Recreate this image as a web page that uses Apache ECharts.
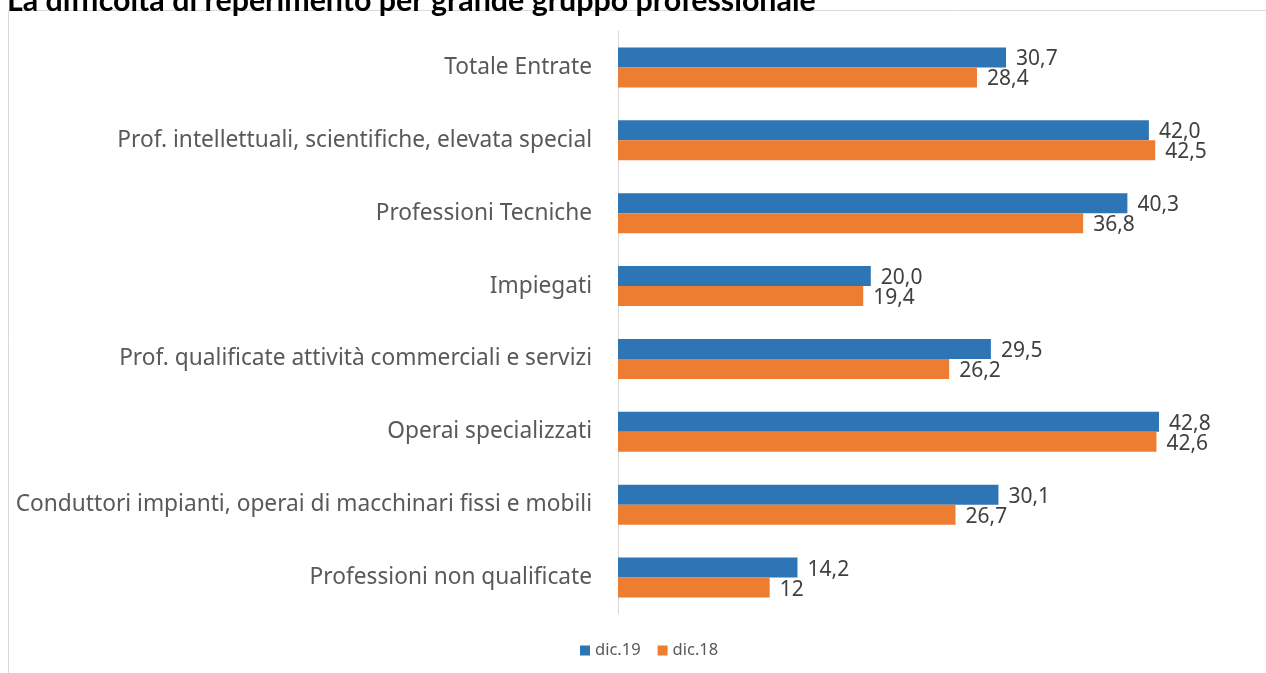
<!DOCTYPE html>
<html>
<head>
<meta charset="utf-8">
<script src="https://cdn.jsdelivr.net/npm/echarts@6/dist/echarts.min.js"></script>
<style>
  html, body { margin: 0; padding: 0; background: #fff; }
  #chart { width: 1266px; height: 673px; }
</style>
</head>
<body>
<div id="chart"></div>
<script>
const categories = [
  "Totale Entrate",
  "Prof. intellettuali, scientifiche, elevata special",
  "Professioni Tecniche",
  "Impiegati",
  "Prof. qualificate attività commerciali e servizi",
  "Operai specializzati",
  "Conduttori impianti, operai di macchinari fissi e mobili",
  "Professioni non qualificate"
];
const dic19 = [30.7, 42.0, 40.3, 20.0, 29.5, 42.8, 30.1, 14.2];
const dic18 = [28.4, 42.5, 36.8, 19.4, 26.2, 42.6, 26.7, 12];
const labels19 = ["30,7", "42,0", "40,3", "20,0", "29,5", "42,8", "30,1", "14,2"];
const labels18 = ["28,4", "42,5", "36,8", "19,4", "26,2", "42,6", "26,7", "12"];

const chart = echarts.init(document.getElementById("chart"));

const valueLabel = (texts) => ({
  show: true,
  position: "right",
  distance: 10,
  offset: [0, 2],
  color: "#404040",
  fontFamily: "Noto Sans",
  fontSize: 21,
  formatter: (p) => texts[p.dataIndex]
});

const options = {
  animation: false,
  title: {
    text: "La difficoltà di reperimento per grande gruppo professionale",
    left: 2,
    top: -19,
    textStyle: {
      fontFamily: "Lato",
      fontWeight: "bold",
      fontSize: 30.4,
      color: "#000"
    }
  },
  graphic: [
    {
      type: "rect",
      shape: { x: 8.5, y: 10.5, width: 1300, height: 700 },
      style: { fill: "none", stroke: "#d9d9d9", lineWidth: 1 },
      silent: true
    }
  ],
  legend: {
    bottom: 9,
    left: 575,
    itemWidth: 10,
    itemHeight: 10,
    itemGap: 17,
    icon: "rect",
    textStyle: { fontFamily: "Noto Sans", fontSize: 16.5, color: "#595959" },
    data: ["dic.19", "dic.18"]
  },
  grid: {
    left: 618,
    right: 16,
    top: 31,
    bottom: 59
  },
  xAxis: {
    type: "value",
    min: 0,
    max: 50,
    show: false,
    splitLine: { show: false }
  },
  yAxis: {
    type: "category",
    inverse: true,
    data: categories,
    axisTick: { show: false },
    axisLine: { lineStyle: { color: "#d9d9d9", width: 1 } },
    axisLabel: {
      margin: 26,
      color: "#595959",
      fontFamily: "Noto Sans",
      fontSize: 22.7
    }
  },
  series: [
    {
      name: "dic.19",
      type: "bar",
      data: dic19,
      barWidth: 20,
      barGap: "0%",
      itemStyle: { color: "#2E75B6" },
      label: valueLabel(labels19)
    },
    {
      name: "dic.18",
      type: "bar",
      data: dic18,
      barWidth: 20,
      barGap: "0%",
      itemStyle: { color: "#ED7D31" },
      label: valueLabel(labels18)
    }
  ]
};

chart.setOption(options);

window.addEventListener("resize", () => {
  chart.resize();
});
</script>
</body>
</html>
